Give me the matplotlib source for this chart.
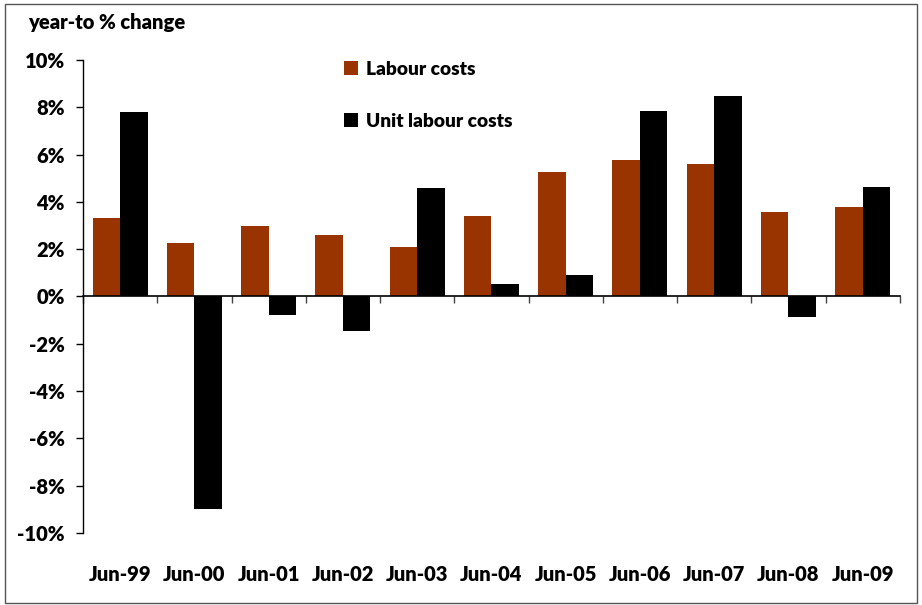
import matplotlib.pyplot as plt
import numpy as np
from matplotlib.patches import Rectangle
from matplotlib.ticker import FuncFormatter

plt.rcParams['font.family'] = ['Lato', 'DejaVu Sans']
plt.rcParams['font.weight'] = 'heavy'

periods = ['Jun-99', 'Jun-00', 'Jun-01', 'Jun-02', 'Jun-03', 'Jun-04',
           'Jun-05', 'Jun-06', 'Jun-07', 'Jun-08', 'Jun-09']
labour_costs = [3.3, 2.28, 2.96, 2.58, 2.11, 3.42, 5.28, 5.78, 5.58, 3.59, 3.8]
unit_labour_costs = [7.78, -8.99, -0.79, -1.44, 4.57, 0.51, 0.89, 7.86, 8.49, -0.85, 4.61]

fig = plt.figure(figsize=(9.22, 6.05), dpi=100)
ax = fig.add_axes([0.09, 0.119, 0.886, 0.782])

x = np.arange(len(periods))
w = 0.37
ax.bar(x - w / 2, labour_costs, w, color='#993300', label='Labour costs')
ax.bar(x + w / 2, unit_labour_costs, w, color='black', label='Unit labour costs')

ax.set_xlim(-0.5, len(periods) - 0.5)
ax.set_ylim(-10, 10)
ax.set_yticks(range(-10, 11, 2))
ax.yaxis.set_major_formatter(FuncFormatter(lambda v, p: f'{v:.0f}%'))
ax.tick_params(axis='y', direction='out', length=5, width=1, labelsize=14.5, pad=8)

for s in ['top', 'right']:
    ax.spines[s].set_visible(False)
ax.spines['bottom'].set_position(('data', 0))
ax.spines['bottom'].set_linewidth(1.2)
ax.spines['left'].set_linewidth(1)
ax.set_xticks(np.arange(len(periods) + 1) - 0.5)
ax.set_xticklabels([])
ax.tick_params(axis='x', direction='out', length=5, width=1, color='#444444')

for i, lab in enumerate(periods):
    ax.text(i, -0.087, lab, transform=ax.get_xaxis_transform(),
            ha='center', va='center', fontsize=14.5, fontweight='heavy')

ax.legend(frameon=False, loc='upper left', bbox_to_anchor=(0.298, 1.035),
          fontsize=13.8, labelspacing=1.85, handlelength=0.75, handleheight=0.75,
          handletextpad=0.4)

fig.text(0.03, 0.962, 'year-to % change', fontsize=14.5, fontweight='heavy',
         ha='left', va='center')

fig.patches.append(Rectangle((0.005, 0.004), 0.99, 0.99, transform=fig.transFigure,
                             fill=False, edgecolor='#555555', linewidth=1))

fig.savefig('out.png', dpi=100)
